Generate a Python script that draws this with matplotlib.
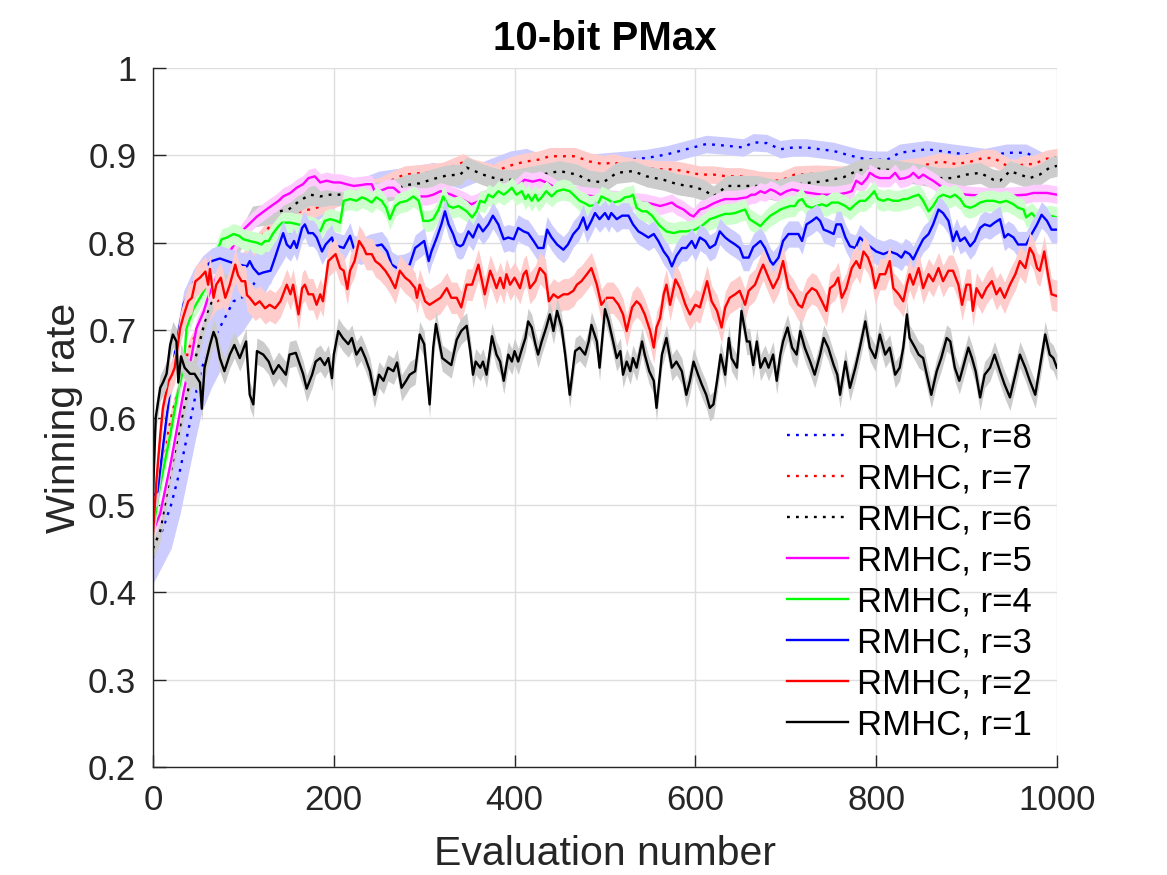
import numpy as np
import matplotlib
matplotlib.use("Agg")
import matplotlib.pyplot as plt

plt.rcParams['font.family'] = ['Liberation Sans', 'DejaVu Sans']

# r=1 (black solid)
r1_x = [0, 3, 8, 11, 15, 19, 22, 26, 28, 31, 35, 41, 46, 52, 54, 57, 63, 67, 70, 74, 79, 85, 90, 96, 103, 107, 111, 115,
        122, 128, 133, 139, 147, 151, 158, 166, 170, 176, 180, 185, 190, 194, 198, 200, 205, 210, 216, 220, 225, 230,
        235, 240, 245, 250, 255, 260, 266, 270, 275, 280, 284, 290, 295, 300, 306, 310, 313, 320, 325, 330, 336, 341,
        347, 351, 354, 357, 362, 365, 369, 375, 380, 384, 388, 393, 397, 400, 404, 408, 412, 415, 419, 423, 426, 430,
        435, 439, 443, 447, 452, 456, 461, 467, 472, 478, 482, 485, 491, 494, 500, 504, 509, 513, 517, 520, 524, 528,
        531, 535, 541, 544, 549, 554, 557, 563, 568, 574, 579, 585, 590, 594, 598, 603, 607, 612, 616, 620, 624, 628,
        633, 637, 640, 646, 651, 657, 660, 664, 668, 672, 677, 681, 686, 690, 694, 697, 702, 707, 712, 716, 721, 727,
        732, 738, 742, 747, 753, 757, 760, 766, 771, 777, 782, 788, 793, 799, 804, 810, 815, 821, 826, 830, 834, 837,
        843, 847, 852, 856, 861, 867, 872, 878, 882, 887, 892, 896, 902, 906, 910, 915, 920, 926, 931, 937, 942, 948,
        954, 959, 965, 970, 976, 981, 987, 992, 996, 1000]
r1_y = [.512, .60, .634, .64, .65, .683, .695, .687, .64, .67, .657, .65, .65, .64, .61, .657, .683, .698, .69, .668,
        .653, .672, .683, .668, .687, .626, .615, .676, .672, .664, .65, .66, .649, .672, .674, .65, .633, .649, .664,
        .668, .66, .668, .645, .672, .699, .691, .684, .691, .672, .68, .668, .653, .626, .649, .642, .657, .653, .663,
        .634, .642, .649, .653, .695, .684, .615, .68, .707, .668, .664, .66, .689, .699, .705, .676, .649, .664, .657,
        .664, .649, .693, .672, .664, .642, .672, .664, .676, .664, .678, .691, .71, .703, .684, .672, .687, .703, .718,
        .699, .722, .703, .672, .626, .676, .68, .672, .687, .706, .687, .657, .724, .71, .687, .668, .676, .649, .664,
        .653, .668, .657, .687, .672, .653, .642, .611, .672, .691, .657, .664, .653, .626, .642, .664, .649, .638,
        .626, .611, .615, .642, .672, .649, .691, .668, .657, .722, .687, .687, .66, .687, .657, .668, .657, .672, .642,
        .672, .687, .703, .68, .672, .699, .68, .664, .649, .672, .691, .68, .66, .649, .626, .664, .634, .657, .68,
        .71, .68, .668, .695, .672, .68, .649, .657, .68, .718, .691, .68, .672, .668, .649, .626, .653, .668, .691,
        .687, .657, .642, .657, .68, .668, .653, .623, .649, .657, .672, .653, .638, .623, .649, .672, .657, .642, .626,
        .657, .695, .672, .668, .657]

# r=2 (red solid)
r2_x = [0, 4, 8, 11, 17, 21, 24, 30, 34, 39, 43, 47, 52, 58, 61, 63, 67, 70, 75, 80, 85, 91, 94, 98, 102, 104, 107, 113,
        118, 124, 129, 135, 141, 144, 148, 152, 155, 161, 165, 168, 172, 177, 181, 185, 188, 194, 198, 202, 207, 211,
        215, 218, 223, 228, 233, 236, 242, 246, 251, 257, 262, 268, 273, 279, 284, 290, 292, 295, 301, 306, 312, 318,
        325, 330, 336, 341, 347, 353, 360, 364, 367, 373, 376, 380, 384, 388, 391, 395, 400, 406, 410, 413, 417, 423,
        428, 434, 438, 443, 448, 454, 459, 465, 469, 474, 480, 485, 491, 496, 502, 509, 515, 520, 524, 530, 535, 539,
        544, 550, 554, 557, 561, 565, 568, 572, 578, 583, 589, 594, 600, 605, 613, 618, 624, 629, 633, 638, 644, 649,
        655, 659, 666, 672, 675, 681, 686, 692, 697, 703, 708, 714, 718, 723, 729, 734, 740, 745, 749, 754, 758, 762,
        767, 773, 778, 782, 786, 791, 795, 799, 804, 810, 815, 819, 825, 830, 834, 837, 841, 847, 852, 858, 863, 869,
        874, 880, 885, 891, 895, 900, 904, 907, 911, 917, 922, 928, 933, 937, 942, 948, 954, 959, 965, 970, 974, 978,
        981, 986, 990, 994, 1000]
r2_y = [.467, .53, .58, .611, .641, .649, .657, .702, .717, .733, .737, .756, .76, .767, .752, .77, .737, .752, .76,
        .737, .752, .775, .763, .756, .756, .74, .737, .729, .733, .725, .729, .725, .733, .741, .752, .741, .752, .718,
        .748, .752, .741, .741, .729, .741, .733, .779, .783, .787, .771, .768, .747, .768, .779, .802, .794, .787, .787,
        .779, .775, .768, .76, .748, .768, .76, .756, .748, .737, .752, .733, .729, .733, .737, .748, .737, .737, .726,
        .752, .752, .775, .756, .741, .768, .76, .748, .76, .748, .764, .752, .76, .748, .764, .768, .748, .756, .771,
        .764, .733, .741, .737, .741, .741, .745, .752, .756, .764, .771, .752, .729, .737, .737, .729, .718, .699, .726,
        .733, .729, .718, .699, .68, .703, .714, .741, .752, .729, .758, .748, .729, .718, .729, .726, .756, .733, .722,
        .703, .726, .737, .741, .745, .729, .745, .752, .768, .775, .76, .748, .76, .779, .748, .741, .729, .726, .741,
        .748, .745, .733, .722, .748, .752, .76, .737, .748, .771, .779, .771, .79, .783, .771, .748, .764, .764, .779,
        .748, .741, .733, .752, .764, .752, .771, .748, .764, .756, .771, .756, .768, .768, .752, .729, .752, .752, .722,
        .748, .737, .748, .756, .741, .748, .737, .752, .764, .779, .771, .794, .787, .771, .768, .79, .764, .741, .739]

# r=3 (blue solid)
r3_x = [0, 5, 15, 25, 34, 45, 55, 65, 74, 85, 95, 104, 107, 111, 117, 122, 130, 135, 141, 144, 148, 152, 156, 159, 165,
        168, 172, 177, 181, 187, 191, 198, 200, 205, 211, 218, 222, 230, 240, 253, 259, 264, 270, 277, 284, 290, 295,
        300, 305, 308, 314, 319, 323, 327, 332, 336, 340, 343, 349, 354, 360, 365, 371, 376, 382, 388, 393, 399, 404,
        410, 415, 421, 426, 432, 436, 441, 447, 454, 459, 465, 471, 476, 480, 485, 489, 494, 500, 504, 507, 513, 519,
        526, 531, 537, 542, 548, 554, 559, 565, 570, 574, 579, 585, 590, 596, 600, 605, 611, 616, 622, 627, 633, 638,
        644, 649, 653, 659, 664, 672, 677, 683, 686, 692, 697, 703, 708, 714, 718, 723, 729, 734, 738, 742, 747, 753,
        756, 761, 766, 771, 777, 782, 790, 800, 808, 815, 823, 828, 832, 837, 841, 847, 852, 858, 863, 869, 874, 880,
        885, 889, 893, 898, 904, 909, 915, 920, 926, 931, 937, 942, 946, 952, 957, 966, 972, 978, 983, 989, 994, 1000]
r3_y = [.51, .515, .60, .68, .73, .755, .77, .779, .782, .778, .775, .773, .779, .771, .764, .766, .768, .783, .802,
        .811, .798, .794, .802, .794, .817, .821, .811, .811, .806, .79, .798, .806, .798, .796, .794, .808, .794, .79,
        .795, .798, .79, .775, .771, .772, .775, .794, .798, .802, .779, .79, .806, .821, .836, .821, .81, .798, .796,
        .798, .813, .806, .821, .813, .821, .831, .821, .804, .806, .804, .817, .813, .811, .802, .794, .794, .815, .806,
        .798, .792, .798, .81, .817, .829, .815, .825, .834, .827, .834, .827, .834, .827, .831, .831, .821, .813, .81,
        .806, .81, .802, .79, .783, .773, .785, .794, .794, .802, .794, .806, .802, .794, .798, .813, .806, .802, .798,
        .794, .783, .783, .795, .802, .794, .779, .775, .783, .802, .81, .81, .81, .802, .821, .825, .829, .825, .815,
        .813, .81, .821, .821, .806, .796, .794, .806, .798, .79, .787, .79, .787, .783, .79, .787, .781, .794, .804,
        .81, .821, .838, .834, .825, .802, .813, .802, .806, .796, .802, .817, .821, .819, .823, .827, .806, .81, .806,
        .798, .798, .81, .821, .832, .825, .815, .815]

# r=4 (green solid)
r4_x = [0, 6, 19, 27, 34, 37, 45, 52, 58, 67, 76, 82, 89, 95, 100, 107, 115, 120, 124, 128, 133, 139, 143, 152, 165,
        177, 185, 190, 196, 203, 207, 211, 218, 225, 231, 236, 242, 247, 253, 258, 262, 268, 273, 281, 288, 294, 299,
        305, 310, 316, 321, 327, 332, 338, 347, 353, 358, 362, 367, 371, 376, 382, 388, 393, 397, 402, 408, 412, 415,
        419, 423, 426, 430, 435, 441, 447, 454, 461, 467, 472, 480, 483, 488, 493, 496, 502, 509, 517, 522, 528, 531,
        535, 541, 546, 552, 560, 568, 576, 583, 590, 600, 608, 616, 622, 627, 633, 638, 644, 649, 655, 660, 666, 672,
        677, 683, 688, 694, 699, 705, 710, 714, 718, 723, 729, 734, 740, 745, 751, 758, 766, 771, 777, 782, 788, 793,
        798, 802, 808, 813, 819, 825, 830, 834, 841, 847, 852, 858, 863, 869, 874, 882, 887, 893, 898, 904, 909, 915,
        922, 930, 937, 944, 952, 957, 963, 966, 972, 978, 985, 992, 1000]
r4_y = [.47, .512, .58, .626, .657, .702, .725, .737, .748, .78, .804, .806, .81, .808, .804, .802, .80, .798, .802,
        .802, .811, .819, .823, .823, .82, .818, .813, .825, .827, .825, .823, .848, .85, .848, .852, .85, .846, .852,
        .848, .84, .827, .842, .846, .848, .853, .848, .825, .825, .827, .838, .853, .842, .84, .842, .836, .829, .836,
        .848, .846, .855, .852, .859, .855, .859, .863, .855, .859, .85, .855, .848, .855, .848, .852, .859, .853, .859,
        .861, .859, .853, .848, .844, .842, .843, .846, .853, .85, .846, .848, .852, .853, .855, .84, .836, .836, .831,
        .82, .813, .811, .813, .813, .815, .82, .827, .829, .831, .833, .833, .834, .836, .838, .827, .823, .819, .825,
        .831, .834, .838, .84, .842, .842, .848, .85, .842, .84, .842, .844, .842, .846, .846, .842, .838, .844, .848,
        .848, .853, .859, .85, .848, .85, .848, .848, .85, .85, .853, .855, .848, .836, .842, .852, .855, .852, .855,
        .85, .842, .84, .842, .846, .848, .848, .846, .848, .844, .84, .838, .829, .834, .827, .829, .831, .829]

# r=5 (magenta solid)
r5_x = [0, 8, 20, 34, 43, 48, 56, 61, 70, 85, 100, 115, 128, 139, 144, 152, 159, 166, 172, 179, 185, 192, 200, 207,
        214, 222, 230, 236, 242, 246, 253, 260, 266, 273, 275, 282, 288, 295, 303, 310, 318, 330, 345, 352, 357, 370,
        385, 400, 411, 420, 428, 435, 450, 470, 490, 510, 530, 545, 554, 561, 568, 574, 579, 587, 594, 598, 605, 611,
        620, 627, 633, 645, 657, 662, 666, 672, 677, 683, 688, 694, 701, 707, 720, 740, 755, 767, 773, 778, 784, 790,
        793, 799, 804, 810, 815, 821, 826, 832, 837, 841, 847, 852, 858, 863, 871, 878, 900, 930, 950, 966, 974, 981,
        989, 1000]
r5_y = [.47, .49, .55, .63, .672, .702, .721, .738, .76, .79, .815, .83, .84, .848, .853, .857, .863, .867, .874, .876,
        .869, .871, .869, .869, .867, .865, .866, .867, .867, .857, .86, .863, .863, .857, .853, .854, .855, .853, .853,
        .855, .859, .855, .848, .844, .846, .852, .858, .862, .872, .87, .872, .869, .86, .855, .853, .85, .848, .846,
        .844, .842, .844, .846, .842, .838, .832, .83, .838, .84, .845, .848, .85, .85, .852, .855, .855, .859, .857,
        .861, .859, .855, .859, .861, .858, .855, .855, .857, .859, .871, .867, .874, .88, .876, .874, .874, .874, .88,
        .873, .874, .876, .88, .874, .878, .874, .871, .865, .859, .855, .853, .854, .855, .857, .857, .857, .855]

# r=6 (black dotted)
r6_x = [0, 8, 19, 28, 32, 45, 60, 80, 100, 110, 124, 135, 150, 162, 174, 185, 196, 205, 220, 240, 255, 270, 280, 295,
        310, 325, 340, 347, 365, 384, 400, 420, 450, 469, 483, 498, 513, 531, 546, 565, 580, 598, 610, 620, 635, 668,
        690, 719, 740, 764, 780, 800, 826, 850, 870, 885, 900, 915, 930, 937, 948, 959, 970, 981, 992, 1000]
r6_y = [.45, .47, .535, .58, .60, .66, .72, .77, .81, .83, .832, .835, .838, .848, .855, .853, .855, .855, .856, .857,
        .858, .862, .866, .868, .873, .877, .878, .886, .878, .872, .872, .876, .882, .878, .871, .869, .88, .882, .876,
        .872, .867, .864, .86, .853, .865, .865, .86, .868, .87, .875, .883, .885, .882, .878, .874, .874, .878, .88,
        .872, .871, .882, .878, .874, .878, .886, .888]

# r=7 (red dotted)
r7_x = [0, 20, 40, 55, 70, 76, 100, 130, 160, 181, 200, 230, 251, 265, 278, 300, 320, 343, 354, 376, 384, 400, 413,
        426, 439, 454, 467, 483, 498, 509, 524, 539, 561, 575, 587, 605, 620, 635, 649, 662, 671, 694, 710, 734, 760,
        790, 820, 850, 871, 889, 905, 918, 930, 948, 955, 963, 974, 988, 1000]
r7_y = [.50, .60, .68, .71, .733, .735, .78, .82, .835, .84, .85, .86, .865, .872, .878, .88, .882, .892, .886, .88,
        .884, .89, .893, .895, .899, .899, .899, .893, .89, .892, .888, .886, .884, .884, .882, .878, .878, .876, .876,
        .874, .872, .871, .878, .879, .878, .88, .884, .888, .893, .89, .893, .897, .897, .886, .886, .89, .89, .896,
        .898]

# r=8 (blue dotted)
r8_x = [0, 10, 20, 30, 40, 48, 54, 65, 74, 89, 98, 111, 130, 150, 175, 200, 225, 250, 270, 290, 310, 340, 370, 395,
        413, 439, 470, 500, 524, 546, 568, 590, 612, 635, 653, 664, 679, 694, 708, 723, 738, 753, 767, 782, 797, 812,
        826, 841, 856, 871, 885, 900, 920, 944, 966, 985, 1000]
r8_y = [.44, .47, .50, .54, .59, .63, .657, .685, .703, .733, .737, .752, .78, .81, .835, .85, .862, .872, .875, .878,
        .882, .872, .885, .895, .898, .888, .89, .893, .895, .897, .901, .907, .913, .911, .909, .915, .914, .907, .909,
        .909, .907, .905, .901, .897, .895, .895, .903, .905, .907, .905, .903, .901, .898, .903, .903, .893, .888]
r8_err = [.03, .04, .05, .05, .05, .05, .05, .05, .05, .045, .04, .035, .025, .02, .015] + [.01] * 42

labels = ['RMHC, r=8', 'RMHC, r=7', 'RMHC, r=6', 'RMHC, r=5', 'RMHC, r=4', 'RMHC, r=3', 'RMHC, r=2', 'RMHC, r=1']
xs = [r8_x, r7_x, r6_x, r5_x, r4_x, r3_x, r2_x, r1_x]
ys = [r8_y, r7_y, r6_y, r5_y, r4_y, r3_y, r2_y, r1_y]
errs = [r8_err, .01, .012, .01, .012, .015, .018, .015]
line_colors = ['#0000ff', '#ff0000', '#000000', '#ff00ff', '#00ff00', '#0000ff', '#ff0000', '#000000']
band_colors = ['#ccccff', '#ffcccc', '#cccccc', '#ffccff', '#ccffcc', '#ccccff', '#ffcccc', '#cccccc']
styles = [':', ':', ':', '-', '-', '-', '-', '-']

yticks = [0.2, 0.3, 0.4, 0.5, 0.6, 0.7, 0.8, 0.9, 1.0]
ytick_labels = ['0.2', '0.3', '0.4', '0.5', '0.6', '0.7', '0.8', '0.9', '1']
xticks = [0, 200, 400, 600, 800, 1000]

fig = plt.figure(figsize=(11.67, 8.75), dpi=100)
ax = fig.add_axes([0.1311, 0.1234, 0.7746, 0.7989])

handles = []
for i in range(8):
    x = np.array(xs[i], dtype=float)
    y = np.array(ys[i])
    e = np.array(errs[i])
    ax.fill_between(x, y - e, y + e, color=band_colors[i], lw=0, zorder=2 + i)
    if styles[i] == ':':
        h, = ax.plot(x, y, color=line_colors[i], lw=1.7, linestyle=(0, (1.2, 2.6)), zorder=2.5 + i, label=labels[i])
    else:
        h, = ax.plot(x, y, color=line_colors[i], lw=1.7, zorder=2.5 + i, label=labels[i])
    handles.append(h)

ax.set_xlim(0, 1000)
ax.set_ylim(0.2, 1.0)
ax.set_xticks(xticks)
ax.set_yticks(yticks)
ax.set_yticklabels(ytick_labels)
ax.grid(True, color='#dedede', lw=1.0, zorder=0)
ax.set_axisbelow(True)
for s in ['top', 'right']:
    ax.spines[s].set_visible(False)
for s in ['left', 'bottom']:
    ax.spines[s].set_color('#262626')
    ax.spines[s].set_linewidth(1.0)
    ax.spines[s].set_zorder(20)
ax.tick_params(direction='in', length=9, width=1, labelsize=25, colors='#262626')
ax.tick_params(axis='x', pad=12)
ax.tick_params(axis='y', pad=12)

ax.set_title('10-bit PMax', fontsize=29, fontweight='bold', color='black', pad=13)
ax.set_xlabel('Evaluation number', fontsize=29.5, color='#262626', labelpad=13)
ax.set_ylabel('Winning rate', fontsize=29.5, color='#262626', labelpad=4)

leg = ax.legend(handles=handles, loc='lower right', bbox_to_anchor=(0.972, 0.037), frameon=False, fontsize=25,
                handlelength=1.75, handletextpad=0.25, labelspacing=0.23, borderaxespad=0, borderpad=0)
leg.set_zorder(30)

fig.savefig('out.png', dpi=100)
